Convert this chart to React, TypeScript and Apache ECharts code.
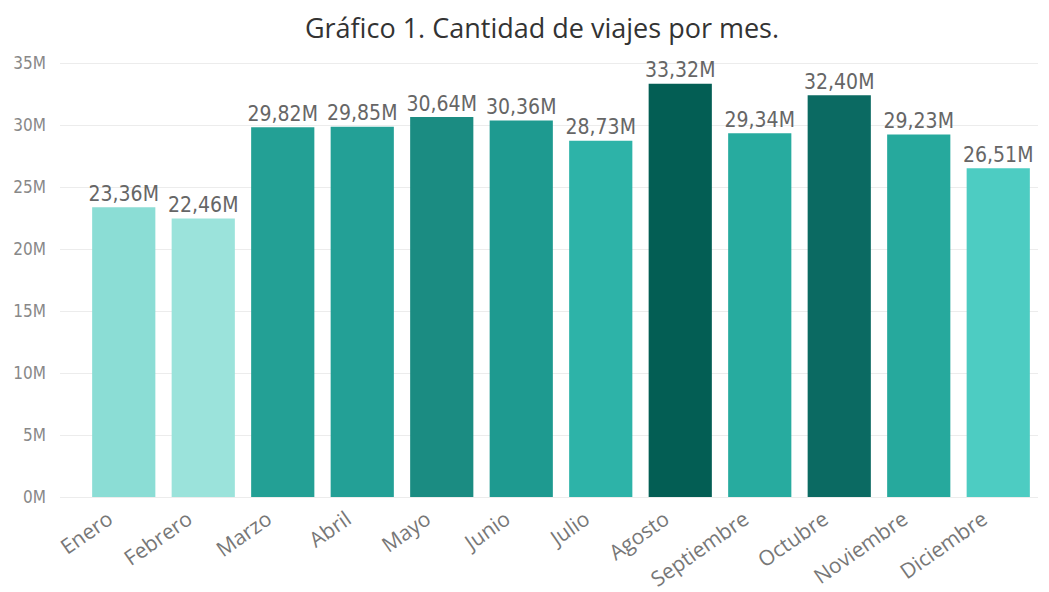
import React, { useEffect, useRef } from "react";
import * as echarts from "echarts";

const months = ["Enero","Febrero","Marzo","Abril","Mayo","Junio","Julio","Agosto","Septiembre","Octubre","Noviembre","Diciembre"];
const trips = [23.36e6, 22.46e6, 29.82e6, 29.85e6, 30.64e6, 30.36e6, 28.73e6, 33.32e6, 29.34e6, 32.40e6, 29.23e6, 26.51e6];
const barColors = ["#8BDDD5","#9BE3DB","#23A095","#23A096","#1B8C82","#1E9A90","#2DB3A8","#035E54","#27AB9F","#0B6A62","#26A99D","#4DCCC2"];
const yTicks = { min: 0, max: 35e6, interval: 5e6 };
const title = "Gráfico 1. Cantidad de viajes por mes.";

const fmtM = (v: number) => (v / 1e6).toFixed(2).replace(".", ",") + "M";
const condensed = "'DejaVu Sans Condensed', 'Liberation Sans Narrow', sans-serif";

export default function App() {
  const ref = useRef<HTMLDivElement>(null);
  useEffect(() => {
    if (!ref.current) return;
    const chart = echarts.init(ref.current, null, { renderer: "svg" });
    chart.setOption({
      animation: false,
      backgroundColor: "#ffffff",
      title: {
        text: title,
        left: 537,
        textAlign: "center",
        top: 9,
        textStyle: { fontFamily: "Open Sans", fontWeight: "normal", fontSize: 27, color: "#333333" },
      },
      grid: [
        { left: 60, right: 11, top: 63, bottom: 95, outerBoundsMode: "none", containLabel: false },
        { left: 84, right: 11, top: 63, bottom: 95, outerBoundsMode: "none", containLabel: false },
      ],
      xAxis: [
        { type: "category", gridIndex: 0, data: months, show: false },
        {
          type: "category",
          gridIndex: 1,
          data: months,
          axisLine: { show: false },
          axisTick: { show: false },
          axisLabel: {
            rotate: 35,
            interval: 0,
            margin: 9,
            padding: [0, 17, 0, 0],
            color: "#777777",
            fontFamily: "Open Sans",
            fontSize: 21,
          },
        },
      ],
      yAxis: [
        {
          type: "value",
          gridIndex: 0,
          min: yTicks.min,
          max: yTicks.max,
          interval: yTicks.interval,
          axisLine: { show: false },
          axisTick: { show: false },
          splitLine: { lineStyle: { color: "#ececec", width: 1 } },
          axisLabel: {
            formatter: (v: number) => v / 1e6 + "M",
            color: "#888888",
            fontFamily: condensed,
            fontSize: 17,
            margin: 14,
          },
        },
        {
          type: "value",
          gridIndex: 1,
          min: yTicks.min,
          max: yTicks.max,
          interval: yTicks.interval,
          show: false,
          splitLine: { show: false },
        },
      ],
      series: [
        {
          type: "bar",
          xAxisIndex: 1,
          yAxisIndex: 1,
          barCategoryGap: "20.5%",
          data: trips.map((v, i) => ({ value: v, itemStyle: { color: barColors[i] } })),
          label: {
            show: true,
            position: "top",
            distance: 3,
            formatter: (p: any) => fmtM(p.value),
            color: "#666666",
            fontFamily: condensed,
            fontSize: 21,
          },
        },
      ],
    });
    return () => chart.dispose();
  }, []);
  return <div ref={ref} style={{ width: 1049, height: 592, position: "absolute", left: 0, top: 0 }} />;
}
